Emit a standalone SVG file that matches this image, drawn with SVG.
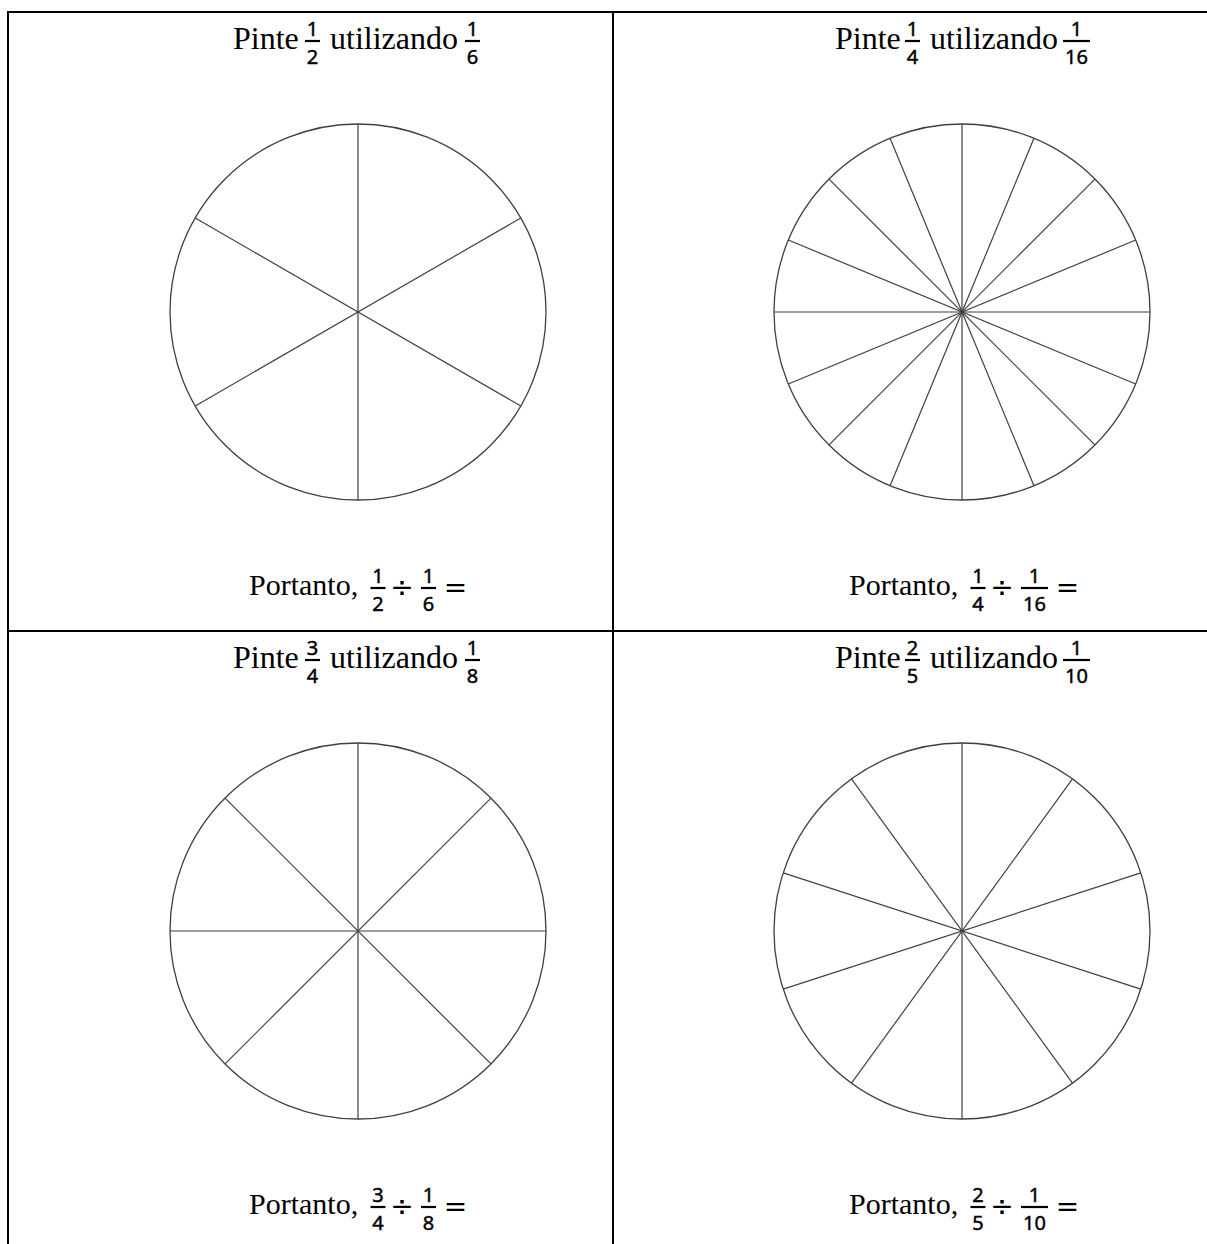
<svg xmlns="http://www.w3.org/2000/svg" width="1207" height="1244" viewBox="0 0 1207 1244">
<style>
.t{font-family:"Liberation Serif","Times New Roman",serif;font-size:32px;fill:#000}
.p{font-family:"Liberation Serif","Times New Roman",serif;font-size:30px;fill:#000}
.d{font-family:"Noto Sans","DejaVu Sans",sans-serif;font-size:20px;fill:#000;text-anchor:middle;stroke:#000;stroke-width:0.45}
.o{font-family:"DejaVu Sans",sans-serif;font-size:28px;fill:#000;text-anchor:middle}
.bar{stroke:#000;stroke-width:2.2}
.grid{stroke:#000;stroke-width:2;fill:none}
.circ{fill:none;stroke:#404040;stroke-width:1.3}
.sp{stroke:#404040;stroke-width:1.2}
</style>
<rect width="1207" height="1244" fill="#fff"/>
<g id="table">
<line class="grid" x1="8" y1="12" x2="1207" y2="12"/>
<line class="grid" x1="8" y1="11" x2="8" y2="1244"/>
<line class="grid" x1="613" y1="12" x2="613" y2="1244"/>
<line class="grid" x1="8" y1="631" x2="1207" y2="631"/>
</g>
<g id="cell-1">
<text class="t" x="233" y="49">Pinte</text>
<text class="d" x="312.5" y="36">1</text><line class="bar" x1="305" y1="41" x2="320" y2="41"/><text class="d" x="312.5" y="64">2</text>
<text class="t" x="330" y="49">utilizando</text>
<text class="d" x="472.5" y="36">1</text><line class="bar" x1="465" y1="41" x2="480" y2="41"/><text class="d" x="472.5" y="64">6</text>
<g transform="translate(358 312)">
<circle class="circ" r="188"/>
<line class="sp" x1="0" y1="-188" x2="0" y2="188"/>
<line class="sp" x1="-188" y1="0" x2="188" y2="0" transform="rotate(30)"/>
<line class="sp" x1="-188" y1="0" x2="188" y2="0" transform="rotate(150)"/>
</g>
<text class="p" x="249" y="595">Portanto,</text>
<text class="d" x="378" y="583">1</text><line class="bar" x1="370.5" y1="588" x2="385.5" y2="588"/><text class="d" x="378" y="611">2</text>
<text class="o" x="402" y="597">÷</text>
<text class="d" x="428.5" y="583">1</text><line class="bar" x1="421" y1="588" x2="436" y2="588"/><text class="d" x="428.5" y="611">6</text>
<text class="o" x="455.5" y="597">=</text>
</g>
<g id="cell-2">
<text class="t" x="835" y="49">Pinte</text>
<text class="d" x="912.5" y="36">1</text><line class="bar" x1="905" y1="41" x2="920" y2="41"/><text class="d" x="912.5" y="64">4</text>
<text class="t" x="930" y="49">utilizando</text>
<text class="d" x="1076.5" y="36">1</text><line class="bar" x1="1063" y1="41" x2="1090" y2="41"/><text class="d" x="1076.5" y="64">16</text>
<g transform="translate(962 312)">
<circle class="circ" r="188"/>
<line class="sp" x1="-188" y1="0" x2="188" y2="0"/>
<line class="sp" x1="-188" y1="0" x2="188" y2="0" transform="rotate(22.5)"/>
<line class="sp" x1="-188" y1="0" x2="188" y2="0" transform="rotate(45)"/>
<line class="sp" x1="-188" y1="0" x2="188" y2="0" transform="rotate(67.5)"/>
<line class="sp" x1="-188" y1="0" x2="188" y2="0" transform="rotate(90)"/>
<line class="sp" x1="-188" y1="0" x2="188" y2="0" transform="rotate(112.5)"/>
<line class="sp" x1="-188" y1="0" x2="188" y2="0" transform="rotate(135)"/>
<line class="sp" x1="-188" y1="0" x2="188" y2="0" transform="rotate(157.5)"/>
</g>
<text class="p" x="849" y="595">Portanto,</text>
<text class="d" x="978" y="583">1</text><line class="bar" x1="970.5" y1="588" x2="985.5" y2="588"/><text class="d" x="978" y="611">4</text>
<text class="o" x="1002" y="597">÷</text>
<text class="d" x="1034.5" y="583">1</text><line class="bar" x1="1021" y1="588" x2="1048" y2="588"/><text class="d" x="1034.5" y="611">16</text>
<text class="o" x="1067.5" y="597">=</text>
</g>
<g id="cell-3">
<text class="t" x="233" y="668">Pinte</text>
<text class="d" x="312.5" y="655">3</text><line class="bar" x1="305" y1="660" x2="320" y2="660"/><text class="d" x="312.5" y="683">4</text>
<text class="t" x="330" y="668">utilizando</text>
<text class="d" x="472.5" y="655">1</text><line class="bar" x1="465" y1="660" x2="480" y2="660"/><text class="d" x="472.5" y="683">8</text>
<g transform="translate(358 931)">
<circle class="circ" r="188"/>
<line class="sp" x1="-188" y1="0" x2="188" y2="0"/>
<line class="sp" x1="-188" y1="0" x2="188" y2="0" transform="rotate(45)"/>
<line class="sp" x1="-188" y1="0" x2="188" y2="0" transform="rotate(90)"/>
<line class="sp" x1="-188" y1="0" x2="188" y2="0" transform="rotate(135)"/>
</g>
<text class="p" x="249" y="1214">Portanto,</text>
<text class="d" x="378" y="1202">3</text><line class="bar" x1="370.5" y1="1207" x2="385.5" y2="1207"/><text class="d" x="378" y="1230">4</text>
<text class="o" x="402" y="1216">÷</text>
<text class="d" x="428.5" y="1202">1</text><line class="bar" x1="421" y1="1207" x2="436" y2="1207"/><text class="d" x="428.5" y="1230">8</text>
<text class="o" x="455.5" y="1216">=</text>
</g>
<g id="cell-4">
<text class="t" x="835" y="668">Pinte</text>
<text class="d" x="912.5" y="655">2</text><line class="bar" x1="905" y1="660" x2="920" y2="660"/><text class="d" x="912.5" y="683">5</text>
<text class="t" x="930" y="668">utilizando</text>
<text class="d" x="1076.5" y="655">1</text><line class="bar" x1="1063" y1="660" x2="1090" y2="660"/><text class="d" x="1076.5" y="683">10</text>
<g transform="translate(962 931)">
<circle class="circ" r="188"/>
<line class="sp" x1="-188" y1="0" x2="188" y2="0" transform="rotate(90)"/>
<line class="sp" x1="-188" y1="0" x2="188" y2="0" transform="rotate(54)"/>
<line class="sp" x1="-188" y1="0" x2="188" y2="0" transform="rotate(18)"/>
<line class="sp" x1="-188" y1="0" x2="188" y2="0" transform="rotate(-18)"/>
<line class="sp" x1="-188" y1="0" x2="188" y2="0" transform="rotate(-54)"/>
</g>
<text class="p" x="849" y="1214">Portanto,</text>
<text class="d" x="978" y="1202">2</text><line class="bar" x1="970.5" y1="1207" x2="985.5" y2="1207"/><text class="d" x="978" y="1230">5</text>
<text class="o" x="1002" y="1216">÷</text>
<text class="d" x="1034.5" y="1202">1</text><line class="bar" x1="1021" y1="1207" x2="1048" y2="1207"/><text class="d" x="1034.5" y="1230">10</text>
<text class="o" x="1067.5" y="1216">=</text>
</g>
</svg>
